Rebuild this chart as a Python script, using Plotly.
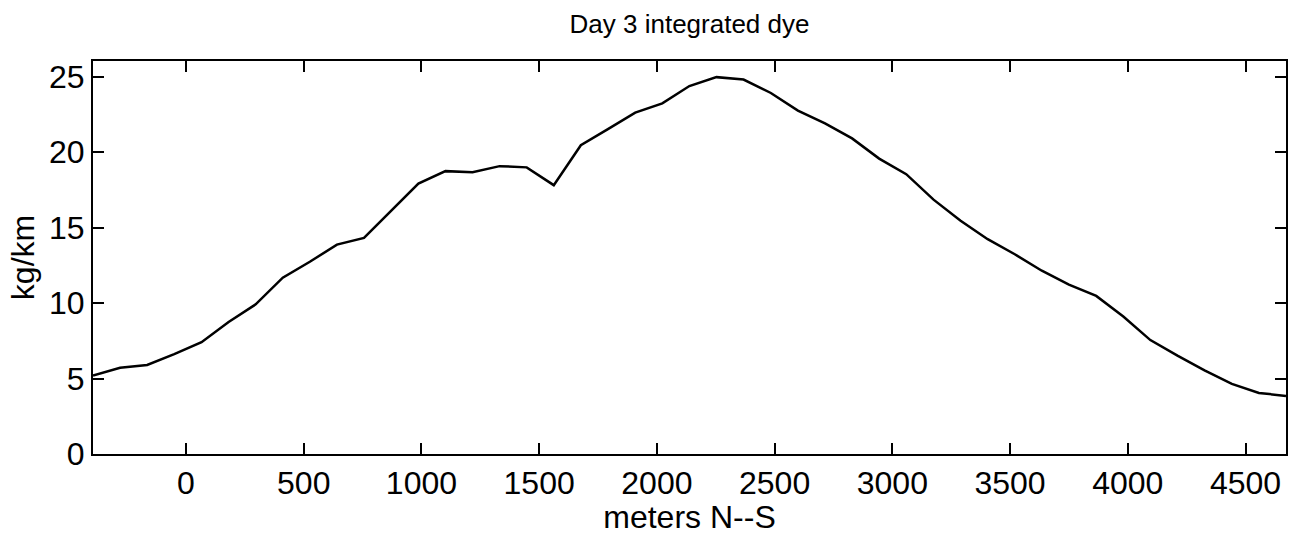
import plotly.graph_objects as go

# Distance along N-S section (m) and integrated dye (kg/km)
distance_m = [-395, -280, -165, -50, 66, 181, 296, 411, 526, 641, 756, 871, 987,
              1102, 1217, 1332, 1447, 1562, 1677, 1792, 1908, 2023, 2138, 2253,
              2368, 2484, 2599, 2714, 2829, 2944, 3059, 3175, 3290, 3405, 3520,
              3635, 3750, 3866, 3981, 4096, 4211, 4326, 4442, 4557, 4672]
dye_kg_per_km = [5.2, 5.72, 5.9, 6.62, 7.41, 8.75, 9.92, 11.69, 12.74, 13.88, 14.32,
                 16.12, 17.92, 18.75, 18.68, 19.08, 19.0, 17.82, 20.47, 21.53, 22.63,
                 23.24, 24.39, 24.98, 24.82, 23.93, 22.76, 21.92, 20.92, 19.58, 18.55,
                 16.86, 15.46, 14.24, 13.24, 12.15, 11.23, 10.48, 9.11, 7.55, 6.52,
                 5.55, 4.65, 4.05, 3.85]
x_ticks = [0, 500, 1000, 1500, 2000, 2500, 3000, 3500, 4000, 4500]
y_ticks = [0, 5, 10, 15, 20, 25]

FONT = "Liberation Sans, Arial, Helvetica, sans-serif"

fig = go.Figure()
fig.add_trace(go.Scatter(x=distance_m, y=dye_kg_per_km, mode="lines",
                         line=dict(color="black", width=2.5), showlegend=False))

axis_common = dict(showline=True, linecolor="black", linewidth=2, mirror="ticks",
                   ticks="inside", ticklen=11, tickwidth=2, tickcolor="black",
                   showgrid=False, zeroline=False,
                   tickfont=dict(family=FONT, size=32, color="black"))

fig.update_xaxes(range=[-395, 4672], tickvals=x_ticks, ticktext=[str(v) for v in x_ticks],
                 title=dict(text="meters N--S", font=dict(family=FONT, size=32, color="black"),
                            standoff=4),
                 **axis_common)
fig.update_yaxes(range=[0, 26.05], tickvals=y_ticks, ticktext=[str(v) for v in y_ticks],
                 title=dict(text="kg/km", font=dict(family=FONT, size=32, color="black"),
                            standoff=5),
                 **axis_common)

fig.update_layout(
    width=1295, height=535,
    margin=dict(l=93, r=9, t=61, b=81, autoexpand=False),
    plot_bgcolor="white", paper_bgcolor="white",
    title=dict(text="Day 3 integrated dye", x=0.5, xref="paper", xanchor="center",
               y=1 - 24 / 535, yref="container", yanchor="middle",
               font=dict(family=FONT, size=26, color="black")),
)

fig.write_html("out.html")
